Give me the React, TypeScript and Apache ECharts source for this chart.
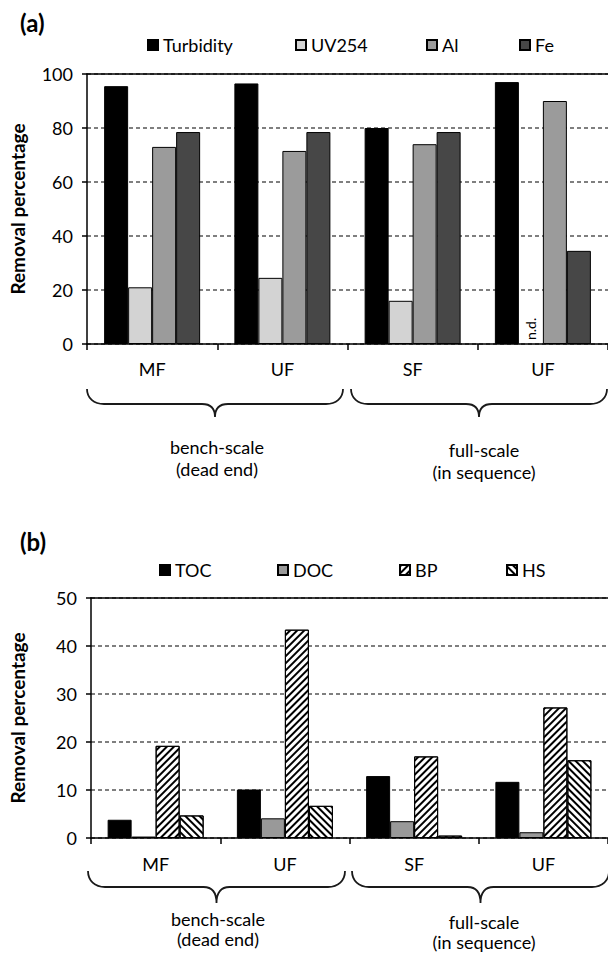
import React, { useEffect, useRef } from "react";
import * as echarts from "echarts";

const categories = ["MF", "UF", "SF", "UF"];
// chart (a)
const turbidity = [95.5, 96.5, 80, 97];
const uv254 = [21, 24.5, 16, 0]; // last one n.d.
const aluminium = [73, 71.5, 74, 90];
const iron = [78.5, 78.5, 78.5, 34.5];
const ticksA = { min: 0, max: 100, interval: 20 };
// chart (b)
const toc = [3.8, 10.1, 12.9, 11.7];
const doc = [0.3, 4.1, 3.5, 1.2];
const bp = [19.2, 43.4, 17.0, 27.2];
const hs = [4.7, 6.7, 0.5, 16.2];
const ticksB = { min: 0, max: 50, interval: 10 };
const groupLabels = ["bench-scale\n(dead end)", "full-scale\n(in sequence)"];

const FONT = "Lato, 'Open Sans', sans-serif";

function braceD(w: number, up: number, down: number) {
  const m = w / 2;
  const r = 17;
  const rt = 13;
  return (
    `M0 0 C0 ${up * 0.6} ${r * 0.4} ${up} ${r} ${up} ` +
    `L${m - rt} ${up} C${m - rt * 0.35} ${up} ${m} ${up + down * 0.35} ${m} ${up + down} ` +
    `C${m} ${up + down * 0.35} ${m + rt * 0.35} ${up} ${m + rt} ${up} ` +
    `L${w - r} ${up} C${w - r * 0.4} ${up} ${w} ${up * 0.6} ${w} 0`
  );
}

let registered = false;
function registerShapes() {
  if (registered) return;
  registered = true;
  echarts.graphic.registerShape("braceA", echarts.graphic.extendPath(braceD(256, 15, 13), {}) as any);
  echarts.graphic.registerShape("braceB", echarts.graphic.extendPath(braceD(257, 16, 16), {}) as any);
}

export default function App() {
  const ref = useRef<HTMLDivElement>(null);
  useEffect(() => {
    if (!ref.current) return;
    registerShapes();
    const chart = echarts.init(ref.current, null, { renderer: "svg" });

    const axisLabel = { color: "#000", fontSize: 18, fontFamily: FONT };
    const mkX = (grid: number, margin: number) => ({
      type: "category",
      gridIndex: grid,
      data: categories,
      axisLine: { lineStyle: { color: "#000", width: 1.5 } },
      axisTick: { show: true, length: 6, alignWithLabel: false, lineStyle: { color: "#000", width: 1.5 } },
      axisLabel: { ...axisLabel, margin, interval: 0 },
      splitLine: { show: false },
    });
    const mkTop = (grid: number) => ({
      type: "category",
      gridIndex: grid,
      position: "top",
      data: categories,
      axisLine: { lineStyle: { color: "#000", width: 1.5 } },
      axisTick: { show: false },
      axisLabel: { show: false },
    });
    const mkY = (grid: number, t: any, nameGap: number) => ({
      type: "value",
      gridIndex: grid,
      min: t.min,
      max: t.max,
      interval: t.interval,
      name: "Removal percentage",
      nameLocation: "middle",
      nameGap,
      nameTextStyle: { color: "#000", fontSize: 19, fontWeight: "bold", fontFamily: FONT },
      axisLine: { show: true, lineStyle: { color: "#000", width: 1.5 } },
      axisTick: { show: true, length: 5, lineStyle: { color: "#000", width: 1.5 } },
      axisLabel: { ...axisLabel, margin: 14 },
      splitLine: { show: true, lineStyle: { color: "#555", width: 1.5, type: [4, 3] } },
    });

    const barBase = {
      type: "bar",
      barWidth: 24,
      barGap: "0%",
      itemStyle: { borderColor: "#000", borderWidth: 1 },
    };

    const legendBase = {
      top: 0,
      padding: 0,
      itemWidth: 10,
      itemHeight: 10,
      icon: "rect",
      selectedMode: false,
      textStyle: { color: "#000", fontSize: 18, fontFamily: FONT },
    };
    const mkLegend = (name: string, left: number, cy: number) => ({
      ...legendBase,
      data: [name],
      left,
      top: cy - 10,
    });

    const decalStyle = (rot: number) => ({
      symbol: "rect",
      symbolSize: 1,
      dashArrayX: [1, 0],
      dashArrayY: [1.8, 2.4],
      rotation: rot,
      color: "#000",
    });

    const groupText = (x: number, y: number, text: string, lh: number) => ({
      type: "text",
      x,
      y,
      style: {
        text,
        fill: "#000",
        font: `18px ${FONT}`,
        textAlign: "center",
        textVerticalAlign: "top",
        lineHeight: lh,
      },
    });
    const braceStyle = { fill: "none", stroke: "#1a1a1a", lineWidth: 1.8 };

    const option: any = {
      animation: false,
      backgroundColor: "#fff",
      grid: [
        { left: 87, top: 74, width: 524, height: 270 },
        { left: 91, top: 598, width: 517, height: 240 },
      ],
      legend: [
        mkLegend("Turbidity", 147, 46),
        mkLegend("UV254", 295, 46),
        mkLegend("Al", 426, 46),
        mkLegend("Fe", 519, 46),
        mkLegend("TOC", 159, 571),
        mkLegend("DOC", 277, 571),
        mkLegend("BP", 399, 571),
        mkLegend("HS", 506, 571),
      ],
      xAxis: [mkX(0, 16), mkTop(0), mkX(1, 17), mkTop(1)],
      yAxis: [mkY(0, ticksA, 60), mkY(1, ticksB, 64)],
      series: [
        { ...barBase, name: "Turbidity", xAxisIndex: 0, yAxisIndex: 0, data: turbidity, itemStyle: { ...barBase.itemStyle, color: "#000" } },
        {
          ...barBase,
          name: "UV254",
          xAxisIndex: 0,
          yAxisIndex: 0,
          itemStyle: { ...barBase.itemStyle, color: "#d3d3d3" },
          data: uv254.map((v, i) =>
            i === 3
              ? {
                  value: v,
                  itemStyle: { borderWidth: 0 },
                  label: {
                    show: true,
                    formatter: "n.d.",
                    position: "top",
                    rotate: 90,
                    distance: 4,
                    align: "left",
                    verticalAlign: "middle",
                    fontSize: 14,
                    color: "#000",
                    fontFamily: FONT,
                  },
                }
              : v
          ),
        },
        { ...barBase, name: "Al", xAxisIndex: 0, yAxisIndex: 0, data: aluminium, itemStyle: { ...barBase.itemStyle, color: "#9b9b9b" } },
        { ...barBase, name: "Fe", xAxisIndex: 0, yAxisIndex: 0, data: iron, itemStyle: { ...barBase.itemStyle, color: "#474747" } },
        { ...barBase, name: "TOC", xAxisIndex: 2, yAxisIndex: 1, data: toc, itemStyle: { ...barBase.itemStyle, color: "#000" } },
        { ...barBase, name: "DOC", xAxisIndex: 2, yAxisIndex: 1, data: doc, itemStyle: { ...barBase.itemStyle, color: "#999" } },
        { ...barBase, name: "BP", xAxisIndex: 2, yAxisIndex: 1, data: bp, itemStyle: { ...barBase.itemStyle, color: "#fff", decal: decalStyle(-Math.PI / 4) } },
        { ...barBase, name: "HS", xAxisIndex: 2, yAxisIndex: 1, data: hs, itemStyle: { ...barBase.itemStyle, color: "#fff", decal: decalStyle(Math.PI / 4) } },
      ],
      graphic: [
        { type: "text", left: 20, top: 10, style: { text: "(a)", fill: "#000", font: `bold 24px ${FONT}` } },
        { type: "text", left: 20, top: 529, style: { text: "(b)", fill: "#000", font: `bold 24px ${FONT}` } },
        { type: "braceA", x: 87, y: 389, shape: {}, style: braceStyle },
        { type: "braceA", x: 351, y: 389, shape: {}, style: braceStyle },
        { type: "braceB", x: 88, y: 871, shape: {}, style: braceStyle },
        { type: "braceB", x: 352, y: 871, shape: {}, style: braceStyle },
        groupText(217, 436, groupLabels[0], 22),
        groupText(484, 439, groupLabels[1], 22),
        groupText(218, 909, groupLabels[0], 20),
        groupText(484, 912, groupLabels[1], 20),
      ],
    };
    chart.setOption(option);
    return () => chart.dispose();
  }, []);
  return (
    <div
      ref={ref}
      style={{ position: "absolute", left: 0, top: 0, width: 608, height: 958, background: "#fff" }}
    />
  );
}
